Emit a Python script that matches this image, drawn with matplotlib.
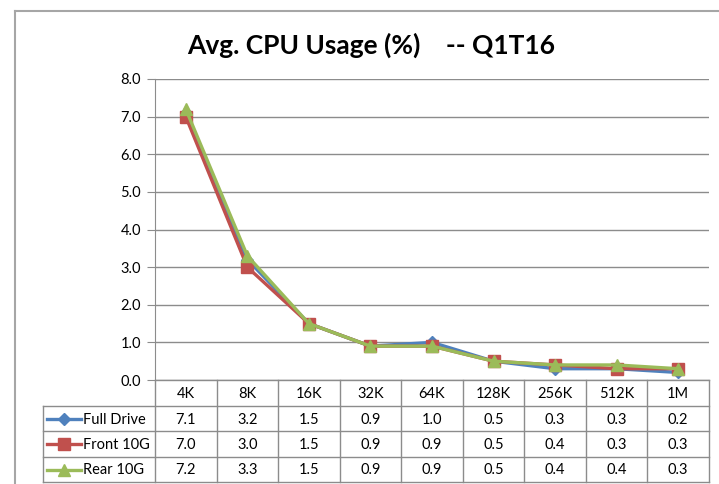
import matplotlib
matplotlib.use("Agg")
from matplotlib import pyplot as plt
from matplotlib.lines import Line2D

categories = ["4K", "8K", "16K", "32K", "64K", "128K", "256K", "512K", "1M"]
series_names = ["Full Drive", "Front 10G", "Rear 10G"]
full_drive = [7.1, 3.2, 1.5, 0.9, 1.0, 0.5, 0.3, 0.3, 0.2]
front_10g = [7.0, 3.0, 1.5, 0.9, 0.9, 0.5, 0.4, 0.3, 0.3]
rear_10g = [7.2, 3.3, 1.5, 0.9, 0.9, 0.5, 0.4, 0.4, 0.3]

series = [full_drive, front_10g, rear_10g]
colors = ["#4F81BD", "#C0504D", "#9BBB59"]
markers = ["D", "s", "^"]
msizes = [6, 8, 9]

plt.rcParams['font.family'] = ['Lato', 'DejaVu Sans']

W, H = 719, 484
fig = plt.figure(figsize=(W / 100, H / 100), dpi=100)

# pixel layout
x0, x1 = 155, 709
y_top, y_zero = 79, 380
ax = fig.add_axes([x0 / W, (H - y_zero) / H, (x1 - x0) / W, (y_zero - y_top) / H])

xs = [i + 0.5 for i in range(len(categories))]
for vals, c, m, ms in zip(series, colors, markers, msizes):
    ax.plot(xs, vals, color=c, lw=2.4, marker=m, ms=ms, mec=c, mfc=c, zorder=3)

ax.set_xlim(0, len(categories))
ax.set_ylim(0, 8)
ax.set_yticks([i for i in range(9)])
ax.set_yticklabels([f"{i:.1f}" for i in range(9)], fontsize=10.5)
ax.set_xticks([])
ax.grid(axis='y', color='#8c8c8c', lw=1)
ax.set_axisbelow(True)
for s in ['top', 'right', 'bottom']:
    ax.spines[s].set_visible(False)
ax.spines['left'].set_color('#8c8c8c')
ax.tick_params(axis='y', length=6, color='#8c8c8c', pad=4)

# overlay axes in pixel coordinates for table and border
ov = fig.add_axes([0, 0, 1, 1], zorder=-1)
ov.set_xlim(0, W)
ov.set_ylim(H, 0)
ov.axis('off')
ov2 = fig.add_axes([0, 0, 1, 1])
ov2.set_xlim(0, W)
ov2.set_ylim(H, 0)
ov2.axis('off')

# chart border
ov.plot([15, 15], [11, H], color='#a6a6a6', lw=1.5)
ov.plot([15, W], [11, 11], color='#a6a6a6', lw=1.5)

fig.text(371 / W, 1 - 45 / H, "Avg. CPU Usage (%)    -- Q1T16", ha='center', va='center',
         fontsize=19, fontweight='bold')

gc = '#8c8c8c'
col_w = (x1 - x0) / len(categories)
rows = [380, 406, 431, 457, 482]
tl = 43
# horizontal lines
ov2.plot([x0, x1], [rows[0], rows[0]], color=gc, lw=1)
for r in rows[1:]:
    ov2.plot([tl, x1], [r, r], color=gc, lw=1)
# vertical lines
ov2.plot([tl, tl], [rows[1], rows[-1]], color=gc, lw=1)
for k in range(len(categories) + 1):
    xx = x0 + k * col_w
    ov2.plot([xx, xx], [rows[0], rows[-1]], color=gc, lw=1)

for k, cat in enumerate(categories):
    cx = x0 + (k + 0.5) * col_w
    ov2.text(cx, (rows[0] + rows[1]) / 2 + 1, cat, ha='center', va='center', fontsize=10.5)
    for j, vals in enumerate(series):
        cy = (rows[j + 1] + rows[j + 2]) / 2 + 1
        ov2.text(cx, cy, f"{vals[k]:.1f}", ha='center', va='center', fontsize=10.5)

for j, (name, c, m, ms) in enumerate(zip(series_names, colors, markers, msizes)):
    cy = (rows[j + 1] + rows[j + 2]) / 2
    ov2.add_line(Line2D([47, 81], [cy, cy], color=c, lw=2.4))
    ov2.plot([64], [cy], marker=m, color=c, ms=ms)
    ov2.text(83, cy + 1, name, ha='left', va='center', fontsize=10.5)

plt.savefig('out.png', dpi=100)
